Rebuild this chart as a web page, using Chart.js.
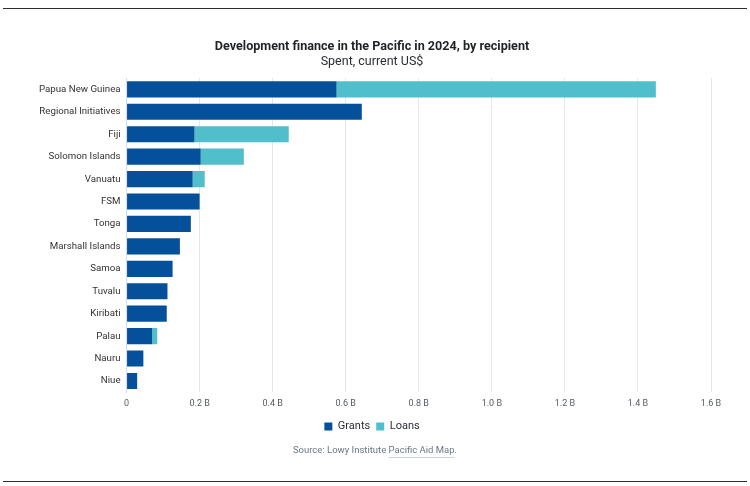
<!DOCTYPE html>
<html>
<head>
<meta charset="utf-8">
<script src="https://cdn.jsdelivr.net/npm/chart.js@4.4.0/dist/chart.umd.min.js"></script>
<style>
  html, body { margin: 0; padding: 0; background: #fff; }
  #wrap { position: relative; width: 750px; height: 486px; }
  canvas { display: block; }
</style>
</head>
<body>
<div id="wrap"><canvas id="c" width="750" height="486"></canvas></div>
<script>
const categories = ["Papua New Guinea", "Regional Initiatives", "Fiji", "Solomon Islands", "Vanuatu", "FSM", "Tonga", "Marshall Islands", "Samoa", "Tuvalu", "Kiribati", "Palau", "Nauru", "Niue"];
const grants = [0.575, 0.644, 0.186, 0.203, 0.181, 0.200, 0.176, 0.146, 0.126, 0.112, 0.110, 0.070, 0.046, 0.029];
const loans  = [0.874, 0, 0.258, 0.118, 0.033, 0, 0, 0, 0, 0, 0, 0.014, 0, 0];
const tickValues = [0, 0.2, 0.4, 0.6, 0.8, 1.0, 1.2, 1.4, 1.6];
const tickLabels = ["0", "0.2 B", "0.4 B", "0.6 B", "0.8 B", "1.0 B", "1.2 B", "1.4 B", "1.6 B"];
const titleText = "Development finance in the Pacific in 2024, by recipient";
const subtitleText = "Spent, current US$";
const sourcePrefix = "Source: Lowy Institute ";
const sourceLink = "Pacific Aid Map";
const sourceSuffix = ".";

const FONT = "Roboto, 'Liberation Sans', sans-serif";

const decor = {
  id: 'decor',
  afterDraw(chart) {
    const ctx = chart.ctx;
    ctx.save();
    ctx.strokeStyle = '#2b2f33';
    ctx.lineWidth = 1.2;
    ctx.beginPath();
    ctx.moveTo(3, 8.5); ctx.lineTo(747, 8.5);
    ctx.moveTo(3, 481.5); ctx.lineTo(747, 481.5);
    ctx.stroke();
    ctx.font = "9.5px " + FONT;
    ctx.textBaseline = 'middle';
    const w1 = ctx.measureText(sourcePrefix).width;
    const w2 = ctx.measureText(sourceLink).width;
    const w3 = ctx.measureText(sourceSuffix).width;
    let x = 375 - (w1 + w2 + w3) / 2;
    const y = 451;
    ctx.fillStyle = '#6b7785';
    ctx.textAlign = 'left';
    ctx.fillText(sourcePrefix, x, y);
    ctx.fillText(sourceLink, x + w1, y);
    ctx.fillText(sourceSuffix, x + w1 + w2, y);
    ctx.strokeStyle = '#c9d3dc';
    ctx.lineWidth = 1;
    ctx.beginPath();
    ctx.moveTo(x + w1, y + 6.5); ctx.lineTo(x + w1 + w2, y + 6.5);
    ctx.stroke();
    ctx.restore();
  }
};

new Chart(document.getElementById('c'), {
  type: 'bar',
  data: {
    labels: categories,
    datasets: [
      { label: 'Grants', data: grants, backgroundColor: '#04509a', borderWidth: 0 },
      { label: 'Loans', data: loans, backgroundColor: '#50bfcb', borderWidth: 0 }
    ]
  },
  options: {
    indexAxis: 'y',
    responsive: false,
    animation: false,
    devicePixelRatio: 1,
    categoryPercentage: 1,
    barPercentage: 0.72,
    layout: { padding: { top: 39, right: 39, bottom: 44, left: 33 } },
    scales: {
      x: {
        stacked: true,
        min: 0, max: 1.6,
        afterBuildTicks(axis) { axis.ticks = tickValues.map(v => ({ value: v })); },
        ticks: {
          callback(v) { const i = tickValues.findIndex(t => Math.abs(t - v) < 1e-9); return i >= 0 ? tickLabels[i] : ''; },
          font: { family: FONT, size: 9 },
          color: '#555b62',
          padding: 6,
          maxRotation: 0
        },
        grid: { color: '#e3e8ee', drawTicks: false, lineWidth: 1 },
        border: { display: false }
      },
      y: {
        stacked: true,
        ticks: { font: { family: FONT, size: 9.7 }, color: '#333', padding: 6, autoSkip: false },
        grid: { display: false, drawTicks: false },
        border: { display: true, color: '#d9dee4' }
      }
    },
    plugins: {
      title: { display: true, text: titleText, font: { family: FONT, size: 12.6, weight: 'bold' }, color: '#1f2326', padding: { top: 0, bottom: 0 } },
      subtitle: { display: true, text: subtitleText, font: { family: FONT, size: 12.5 }, color: '#2a2e33', padding: { top: 0, bottom: 9 } },
      legend: {
        position: 'bottom',
        labels: { boxWidth: 8, boxHeight: 8, font: { family: FONT, size: 11 }, color: '#2a2e33', padding: 6 }
      },
      tooltip: { enabled: false }
    }
  },
  plugins: [decor]
});
</script>
</body>
</html>
